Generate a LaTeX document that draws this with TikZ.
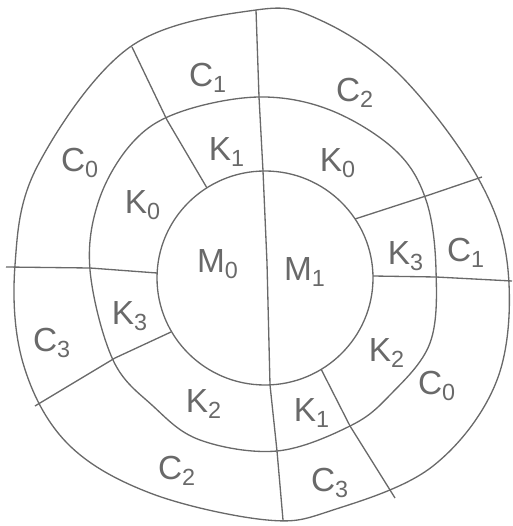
\documentclass[tikz,border=0pt]{standalone}
\usepackage{fontspec}
\setmainfont{Liberation Sans}
\definecolor{pen}{RGB}{105,105,105}
\begin{document}
\begin{tikzpicture}[x=0.02cm,y=-0.02cm]
\tikzset{
  ring/.style={draw=pen, line width=0.75pt},
  cut/.style={draw=pen, line width=0.75pt},
  lab/.style={text=pen, inner sep=0pt, font=\fontsize{19}{22}\selectfont}
}
\useasboundingbox (0,0) rectangle (512,526);
% rings
\draw[ring] plot[smooth cycle, tension=0.6] coordinates {(15,265) (38,165) (130,47) (256,10) (320,20) (400,75) (478,178) (508,270) (497,380) (433,466) (333,510) (267,520) (150,493) (67,443) (23,363)};
\draw[ring] plot[smooth cycle, tension=0.6] coordinates {(90,270) (99,200) (133,142) (180,112) (259,97) (330,110) (395,150) (426,200) (436,270) (430,343) (390,395) (350,426) (277,451) (200,440) (153,406) (113,360)};
\draw[ring] (265,278) ellipse [x radius=108, y radius=107];
% radial cuts
\coordinate (v0) at (256,10);  \coordinate (v1) at (259,97);  \coordinate (v2) at (263,171);
\coordinate (v3) at (267,263); \coordinate (v4) at (270,385); \coordinate (v5) at (277,451);
\coordinate (v6) at (283,520);
\draw[cut] (v0) -- (v1) -- (v2) -- (v3) -- (v4) -- (v5) -- (v6);
\coordinate (a0) at (132,47);  \coordinate (a1) at (167,120); \coordinate (a2) at (207,188);
\draw[cut] (a0) -- (a1) -- (a2);
\coordinate (b0) at (6,267);   \coordinate (b1) at (90,268);  \coordinate (b2) at (157,273);
\draw[cut] (b0) -- (b1) -- (b2);
\coordinate (c0) at (171,332); \coordinate (c1) at (115,358); \coordinate (c2) at (35,406);
\draw[cut] (c0) -- (c1) -- (c2);
\coordinate (d0) at (355,219); \coordinate (d1) at (429,195); \coordinate (d2) at (482,177);
\draw[cut] (d0) -- (d1) -- (d2);
\coordinate (e0) at (373,276); \coordinate (e1) at (436,277); \coordinate (e2) at (512,281);
\draw[cut] (e0) -- (e1) -- (e2);
\coordinate (f0) at (321,369); \coordinate (f1) at (350,426); \coordinate (f2) at (395,498);
\draw[cut] (f0) -- (f1) -- (f2);
% labels
\node[lab] (lC1a) at (208,78) {C\textsubscript{1}};
\node[lab] (lC2a) at (355,93) {C\textsubscript{2}};
\node[lab] (lC0a) at (80,163) {C\textsubscript{0}};
\node[lab] (lK1a) at (227,152) {K\textsubscript{1}};
\node[lab] (lK0a) at (338,163) {K\textsubscript{0}};
\node[lab] (lK0b) at (143,205) {K\textsubscript{0}};
\node[lab] (lM0) at (218,264) {M\textsubscript{0}};
\node[lab] (lM1) at (305,272) {M\textsubscript{1}};
\node[lab] (lK3a) at (406,256) {K\textsubscript{3}};
\node[lab] (lC1b) at (466,253) {C\textsubscript{1}};
\node[lab] (lK3b) at (130,316) {K\textsubscript{3}};
\node[lab] (lC3a) at (52,343) {C\textsubscript{3}};
\node[lab] (lK2a) at (387,353) {K\textsubscript{2}};
\node[lab] (lC0b) at (437,386) {C\textsubscript{0}};
\node[lab] (lK2b) at (204,404) {K\textsubscript{2}};
\node[lab] (lK1b) at (312,413) {K\textsubscript{1}};
\node[lab] (lC2b) at (177,471) {C\textsubscript{2}};
\node[lab] (lC3b) at (330,483) {C\textsubscript{3}};
\end{tikzpicture}
\end{document}
